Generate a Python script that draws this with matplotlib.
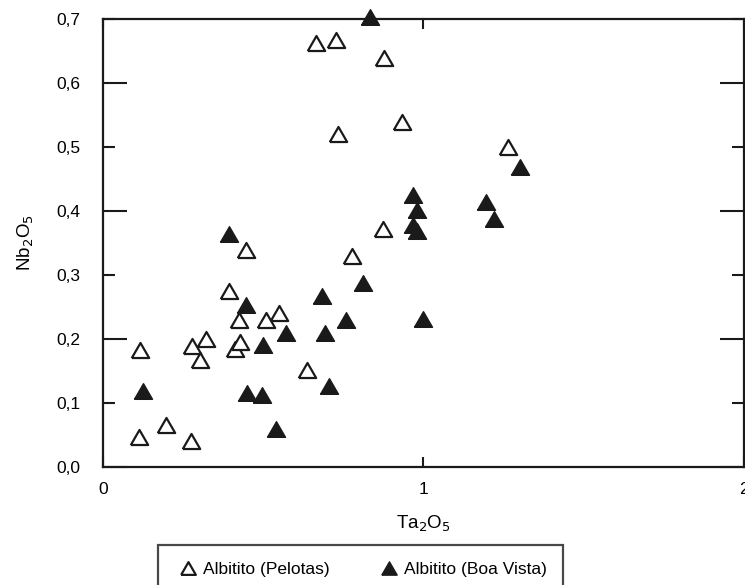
import matplotlib.pyplot as plt
import numpy as np
from matplotlib.ticker import FixedLocator, FixedFormatter

plt.rcParams['font.family'] = ['Liberation Sans', 'DejaVu Sans']

# Albitito (Pelotas) - open triangles
pel_ta = [0.115, 0.113, 0.198, 0.276, 0.278, 0.302, 0.321, 0.393, 0.411, 0.429,
          0.425, 0.447, 0.510, 0.551, 0.636, 0.776, 0.873, 0.664, 0.726, 0.879,
          0.733, 0.933, 1.265]
pel_nb = [0.183, 0.047, 0.066, 0.041, 0.189, 0.167, 0.200, 0.275, 0.185, 0.196,
          0.229, 0.339, 0.229, 0.240, 0.152, 0.330, 0.372, 0.662, 0.667, 0.639,
          0.521, 0.539, 0.500]

# Albitito (Boa Vista) - filled triangles
bv_ta = [0.835, 0.969, 0.982, 0.967, 0.982, 1.302, 1.197, 1.221, 0.393, 0.447,
         0.572, 0.499, 0.124, 0.451, 0.496, 0.541, 0.683, 0.693, 0.707, 0.760,
         0.811, 0.998]
bv_nb = [0.703, 0.425, 0.402, 0.378, 0.368, 0.469, 0.414, 0.388, 0.364, 0.253,
         0.209, 0.190, 0.118, 0.115, 0.112, 0.059, 0.267, 0.210, 0.126, 0.229,
         0.288, 0.232]

x_ticks = [0, 1, 2]
x_labels = ['0', '1', '2']
y_major = [0.0, 0.2, 0.4, 0.6]
y_major_labels = ['0,0', '0,2', '0,4', '0,6']
y_minor = [0.1, 0.3, 0.5, 0.7]
y_minor_labels = ['0,1', '0,3', '0,5', '0,7']

# equilateral-ish triangle, centred on its bounding box
tri = [(-1, -0.866), (1, -0.866), (0, 0.866), (-1, -0.866)]
ink = '#1a1a1a'
fs = 12.5

fig = plt.figure(figsize=(7.45, 5.85), dpi=100)
ax = fig.add_axes([103 / 745, 1 - 467 / 585, 640.5 / 745, 448 / 585])

ax.plot(bv_ta, bv_nb, linestyle='none', marker=tri, ms=13, mfc=ink, mec=ink,
        mew=1, clip_on=False, label='Albitito (Boa Vista)', zorder=3)
ax.plot(pel_ta, pel_nb, linestyle='none', marker=tri, ms=12.5, mfc='white', mec=ink,
        mew=1.6, clip_on=False, label='Albitito (Pelotas)', zorder=4)

ax.set_xlim(0, 2)
ax.set_ylim(0, 0.7)

ax.set_xticks(x_ticks)
ax.set_xticklabels(x_labels)
ax.yaxis.set_major_locator(FixedLocator(y_major))
ax.yaxis.set_major_formatter(FixedFormatter(y_major_labels))
ax.yaxis.set_minor_locator(FixedLocator(y_minor))
ax.yaxis.set_minor_formatter(FixedFormatter(y_minor_labels))

ax.tick_params(axis='x', which='major', direction='in', length=7.5, width=1.5,
               top=True, bottom=True, pad=11, labelsize=fs, color=ink)
ax.tick_params(axis='y', which='major', direction='in', length=17, width=1.5,
               left=True, right=True, pad=16, labelsize=fs, color=ink)
ax.tick_params(axis='y', which='minor', direction='in', length=8.5, width=1.5,
               left=True, right=True, pad=16, labelsize=fs, color=ink)

for s in ax.spines.values():
    s.set_linewidth(1.6)
    s.set_color(ink)

ax.set_xlabel(r'Ta$_2$O$_5$', fontsize=13.5, labelpad=12)
ax.set_ylabel(r'Nb$_2$O$_5$', fontsize=13.5, labelpad=15)

h, l = ax.get_legend_handles_labels()
leg = fig.legend(h[::-1], l[::-1], loc='upper left', bbox_to_anchor=(158 / 745, 1 - 545 / 585),
                 ncol=2, fontsize=fs, frameon=True, fancybox=False, markerscale=0.85,
                 handlelength=1.6, handletextpad=0.05, columnspacing=2.6,
                 borderpad=0.95, borderaxespad=0)
leg.get_frame().set_edgecolor(ink)
leg.get_frame().set_linewidth(1.6)

fig.savefig('out.png', dpi=100)
